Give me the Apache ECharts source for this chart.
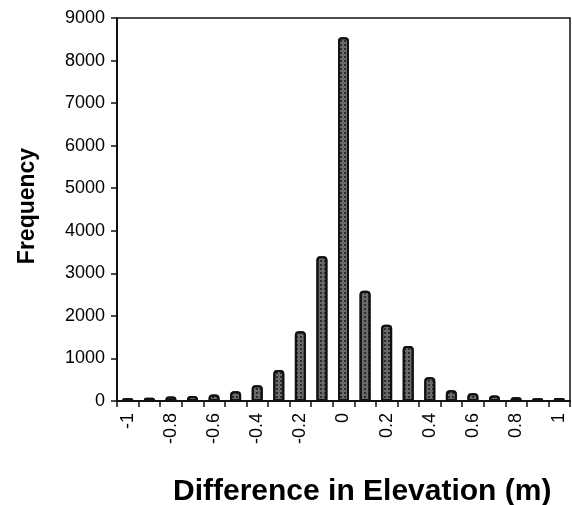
<!DOCTYPE html>
<html><head><meta charset="utf-8">
<script src="https://cdn.jsdelivr.net/npm/echarts@6/dist/echarts.min.js"></script>
<style>html,body{margin:0;padding:0;background:#fff}#c{width:572px;height:505px}</style>
</head><body><div id="c"></div>
<script>
const categories = ['-1','-0.9','-0.8','-0.7','-0.6','-0.5','-0.4','-0.3','-0.2','-0.1','0','0.1','0.2','0.3','0.4','0.5','0.6','0.7','0.8','0.9','1'];
const frequency = [65,75,105,115,150,230,370,730,1640,3400,8550,2590,1790,1290,560,250,180,130,90,65,70];
const yTicks = {min:0, max:9000, interval:1000};
const xTitle = 'Difference in Elevation (m)';
const yTitle = 'Frequency';

const tickFont = "'Liberation Sans',Arial,sans-serif";
const chart = echarts.init(document.getElementById('c'));
chart.setOption({
  animation:false,
  grid:{left:117, right:2, top:18, bottom:104, show:true, borderColor:'#111', borderWidth:1.5},
  xAxis:{type:'category', data:categories, boundaryGap:true,
    axisLine:{lineStyle:{color:'#111', width:2}},
    axisTick:{show:true, alignWithLabel:false, interval:0, length:6, lineStyle:{color:'#111', width:1.5}},
    axisLabel:{interval:1, rotate:90, margin:12, color:'#000', fontSize:18, fontFamily:tickFont}},
  yAxis:{type:'value', min:yTicks.min, max:yTicks.max, interval:yTicks.interval,
    splitLine:{show:false},
    axisLine:{show:true, lineStyle:{color:'#111', width:2}},
    axisTick:{show:true, length:6, lineStyle:{color:'#111', width:1.5}},
    axisLabel:{margin:12, color:'#000', fontSize:18, fontFamily:tickFont, formatter:v => String(v)}},
  series:[{type:'bar', data:frequency, barWidth:11,
    itemStyle:{color:'#6a6a6a', borderColor:'#111', borderWidth:2, borderRadius:[3,3,0,0],
      decal:{symbol:'rect', symbolSize:1, color:'rgba(20,20,20,0.7)', dashArrayX:[2,2], dashArrayY:[2,2], rotation:0}}}],
  graphic:[
    {type:'text', left:173, top:477, style:{text:xTitle, font:"bold 30px 'Liberation Sans',Arial,sans-serif", fill:'#000'}},
    {type:'text', x:28, y:206, rotation:Math.PI/2, style:{text:yTitle, font:"bold 23px 'Liberation Sans',Arial,sans-serif", fill:'#000', align:'center', verticalAlign:'middle'}}
  ]
});
</script></body></html>
